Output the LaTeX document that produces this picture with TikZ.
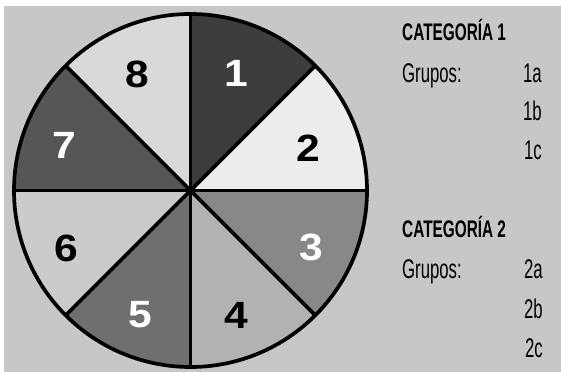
\documentclass[tikz,border=0pt]{standalone}
\usepackage{fontspec}
\newfontfamily\digitfont[FakeStretch=1.12]{Liberation Sans Bold}
\newfontfamily\condbold[FakeStretch=0.64]{Liberation Sans Bold}
\newfontfamily\condlight[FakeStretch=0.62]{Liberation Sans}
\definecolor{bgc}{HTML}{C6C7C9}
\definecolor{sa}{HTML}{3D3D3F}
\definecolor{sb}{HTML}{ECECEC}
\definecolor{sc}{HTML}{888888}
\definecolor{sd}{HTML}{B2B2B2}
\definecolor{se}{HTML}{6F6F6F}
\definecolor{sf}{HTML}{CBCBCB}
\definecolor{sg}{HTML}{565656}
\definecolor{sh}{HTML}{D8D9DA}
\tikzset{
  num/.style={inner sep=0pt, font=\digitfont\fontsize{38}{38}\selectfont},
  wnum/.style={num, text=white},
  bnum/.style={num, text=black},
  cat/.style={inner sep=0pt, anchor=base west, font=\condbold\fontsize{24}{24}\selectfont},
  grp/.style={inner sep=0pt, anchor=base west, font=\condlight\fontsize{27}{27}\selectfont},
  item/.style={inner sep=0pt, anchor=base east, font=\condlight\fontsize{27}{27}\selectfont},
  rim/.style={line width=3.7pt, draw=black},
}
\begin{document}
\begin{tikzpicture}[x=1pt,y=1pt]
\useasboundingbox (0,0) rectangle (561,372);
\fill[bgc] (4,0) rectangle (561,366);
\coordinate (c) at (190.5,181.5);
\def\R{176.5}
\fill[sa] (c) -- ++(90:\R) arc[start angle=90,end angle=45,radius=\R] -- cycle;
\fill[sb] (c) -- ++(45:\R) arc[start angle=45,end angle=0,radius=\R] -- cycle;
\fill[sc] (c) -- ++(0:\R) arc[start angle=0,end angle=-45,radius=\R] -- cycle;
\fill[sd] (c) -- ++(-45:\R) arc[start angle=-45,end angle=-90,radius=\R] -- cycle;
\fill[se] (c) -- ++(-90:\R) arc[start angle=-90,end angle=-135,radius=\R] -- cycle;
\fill[sf] (c) -- ++(-135:\R) arc[start angle=-135,end angle=-180,radius=\R] -- cycle;
\fill[sg] (c) -- ++(180:\R) arc[start angle=180,end angle=135,radius=\R] -- cycle;
\fill[sh] (c) -- ++(135:\R) arc[start angle=135,end angle=90,radius=\R] -- cycle;
\foreach \a in {0,45,...,315} {\draw[rim] (c) -- ++(\a:\R);}
\draw[rim] (c) circle[radius=\R];
\node[wnum] (n1) at (236,299) {1};
\node[bnum] (n2) at (308,224) {2};
\node[wnum] (n3) at (311,125) {3};
\node[bnum] (n4) at (236,57) {4};
\node[wnum] (n5) at (140,57) {5};
\node[bnum] (n6) at (66,124) {6};
\node[wnum] (n7) at (64,227) {7};
\node[bnum] (n8) at (137,298) {8};
\node[cat] (c1) at (402,331.5) {CATEGORÍA 1};
\node[grp] (g1) at (402,289) {Grupos:};
\node[item] (i1a) at (542,289) {1a};
\node[item] (i1b) at (542,251) {1b};
\node[item] (i1c) at (542,212) {1c};
\node[cat] (c2) at (402,134.3) {CATEGORÍA 2};
\node[grp] (g2) at (402,94) {Grupos:};
\node[item] (i2a) at (543,94) {2a};
\node[item] (i2b) at (543,54) {2b};
\node[item] (i2c) at (543,15) {2c};
\end{tikzpicture}
\end{document}
